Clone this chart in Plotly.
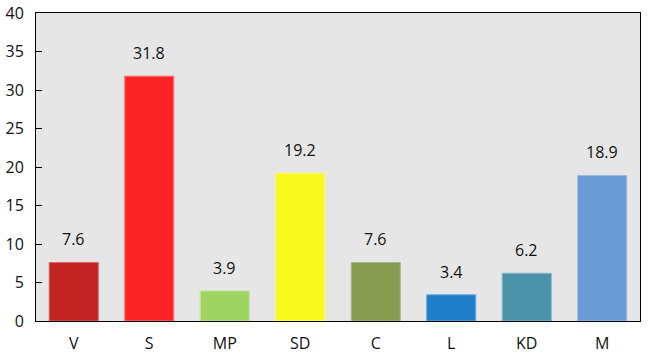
import plotly.graph_objects as go

parties = ["V", "S", "MP", "SD", "C", "L", "KD", "M"]
values = [7.6, 31.8, 3.9, 19.2, 7.6, 3.4, 6.2, 18.9]
colors = ["#c22424", "#fc2327", "#a0d462", "#f9f91f", "#879b51", "#1f7ec8", "#4a93a8", "#6a9bd6"]
border_colors = ["#d96a6a", "#fd7a7a", "#c2e39c", "#fbfb80", "#a9b888", "#6aaadb", "#86b5c4", "#98bbe3"]

fig = go.Figure()
fig.add_trace(go.Bar(
    x=parties, y=values,
    marker=dict(color=colors, line=dict(color=border_colors, width=1)),
    width=0.65,
))
for p, v in zip(parties, values):
    fig.add_annotation(x=p, y=v, text=f"{v}", showarrow=False, yanchor="bottom", yshift=10,
                       font=dict(family="Open Sans", size=16, color="#111111"))

fig.update_layout(
    width=649, height=354,
    margin=dict(l=36, r=9, t=13, b=33),
    paper_bgcolor="white", plot_bgcolor="#e6e6e6",
    showlegend=False,
    font=dict(family="Open Sans", size=16, color="#111111"),
    bargap=0.35,
)
fig.update_xaxes(showline=True, linecolor="black", linewidth=1, mirror=True,
                 ticks="outside", ticklen=8, tickcolor="rgba(0,0,0,0)", showgrid=False,
                 automargin=False, tickfont=dict(size=16))
fig.update_yaxes(range=[0, 40], dtick=5, showline=True, linecolor="black", linewidth=1, mirror=True,
                 ticks="inside", ticklen=6, tickcolor="black", showgrid=False, zeroline=False,
                 automargin=False, ticklabelstandoff=8, tickfont=dict(size=16))
fig.write_html("out.html")
